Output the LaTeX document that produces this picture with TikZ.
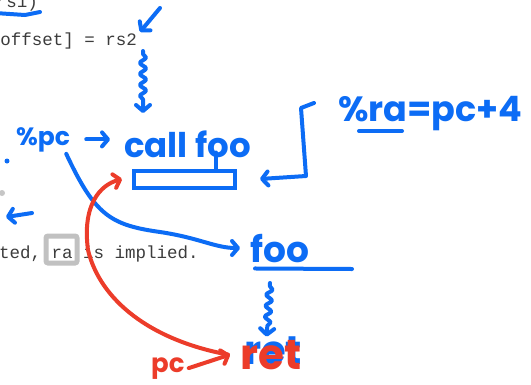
\documentclass[tikz,border=0pt]{standalone}
\usepackage{fontspec}
\setmonofont{Liberation Mono}
\newfontfamily\handfont{Poppins}
\usepackage{tikz}
\usetikzlibrary{calc,positioning,arrows.meta,decorations.pathmorphing}
\definecolor{inkblue}{RGB}{12,108,245}
\definecolor{inkred}{RGB}{236,60,42}
\definecolor{codegray}{RGB}{60,60,60}

\begin{document}
\begin{tikzpicture}[x=1pt, y=-1pt,
		ink/.style={draw=inkblue, line width=4pt, line cap=round, line join=round},
		redink/.style={draw=inkred, line width=4pt, line cap=round, line join=round},
		barb/.style={-{Straight Barb[round, length=6pt, width=14pt]}},
		wiggle/.style={decorate, decoration={snake, amplitude=3pt, segment length=11pt, pre length=3pt, post length=9pt}},
		code/.style={inner sep=0pt, text=codegray, font=\ttfamily\fontsize{17.5}{17.5}\selectfont},
		hand/.style={inner sep=0pt, text=inkblue, font=\handfont\bfseries\fontsize{#1}{#1}\selectfont},
		redhand/.style={inner sep=0pt, text=inkred, font=\handfont\bfseries\fontsize{#1}{#1}\selectfont}]
				\useasboundingbox (0,0) rectangle (531,384);
				\clip (0,0) rectangle (531,384);
				\fill[white] (0,0) rectangle (531,384);
				
				\node[code, anchor=base east] (c1) at (38,7) {rs1)};
				\node[code, anchor=base east] (c2) at (137,45) {offset] = rs2};
				\node[code, anchor=base west] (c3) at (-1,258) {ted, ra is implied.};
				\draw[line width=5pt, draw=gray!60, opacity=0.8, rounded corners=2pt] (46,236) rectangle (77,263);
				
				\node[hand=25, anchor=base west] (pc) at (16,145) {\%pc};
				\node[hand=34, anchor=base west] (call) at (124,157) {call foo};
				\node[draw=inkblue, line width=4pt, minimum width=101pt, minimum height=17pt, inner sep=0pt] (slot) at (184.5,179) {};
				\node[hand=35, anchor=base west] (ra) at (338,121) {\%ra=pc+4};
				\node[hand=36, anchor=base west] (foo) at (250,262) {foo};
				\node[hand=40, anchor=base west] (retb) at (244,364) {ret};
				\node[redhand=42, anchor=base west] (ret) at (240,369) {ret};
				\node[redhand=26, anchor=base west] (pcr) at (151,372) {pc};
				
				\coordinate (a1) at (160,8);
				\coordinate (a2) at (140,32);
				\coordinate (w1) at (143,51);
				\coordinate (w2) at (143,113);
				\coordinate (h1) at (314,103);
				\coordinate (l1) at (32,213);
				\coordinate (l2) at (6,217);
				
				\draw[ink] (-5,13) -- (25,15) -- (40,12);
				\fill[inkblue] (7,161) circle (2.5);
				\fill[gray!45] (2,193) circle (3);
				\draw[ink, barb] (a1) -- (a2);
				\draw[ink, barb, wiggle] (w1) -- (w2);
				\draw[ink, barb] ([xshift=16pt]pc.east) -- ([xshift=-14pt]call.west |- pc.east);
				\draw[ink] ($(slot.north east)+(-21,0)$) -- ++(0,-16);
				\draw[ink, barb] (h1) -- (301,108) -- (306,176) -- ([xshift=23pt]slot.east);
				\draw[ink] (359,131) -- (402,131);
				\draw[ink, barb] ($(pc.south east)+(-4,2)$) .. controls (95,215) and (110,225) .. (160,232) .. controls (200,238) and (215,248) .. ([xshift=-10pt]foo.west);
				\draw[ink] ($(foo.south west)+(5,6)$) -- (352,269);
				\draw[ink, barb, wiggle] (270,283) -- ($(ret.north)+(-4,-3)$);
				\draw[ink, barb] (l1) -- (l2);
				\draw[redink, barb] ([xshift=-12pt]ret.west) .. controls (150,340) and (100,300) .. (88,250) .. controls (82,205) and (100,185) .. ([xshift=-10pt]slot.west);
				\draw[redink, barb] ([xshift=4pt]pcr.east) -- ([xshift=-10pt]ret.west);
			\end{tikzpicture}
\end{document}
